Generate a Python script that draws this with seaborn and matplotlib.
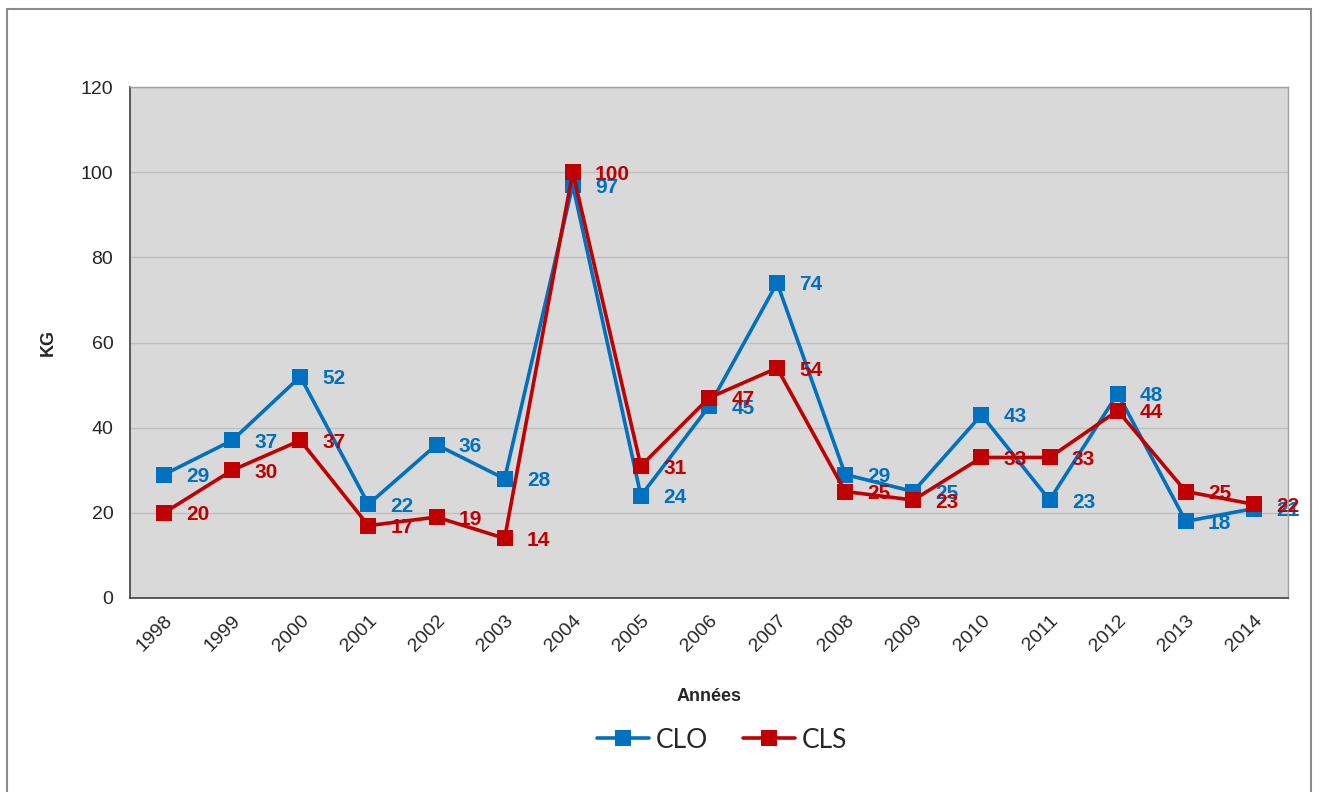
import matplotlib
matplotlib.use('Agg')
import matplotlib.pyplot as plt
from matplotlib import font_manager as fm
from matplotlib.patches import Rectangle
from matplotlib.lines import Line2D
import seaborn as sns
import pandas as pd

# =============================================================================
# Data
# =============================================================================
years = ['1998', '1999', '2000', '2001', '2002', '2003', '2004', '2005', '2006',
         '2007', '2008', '2009', '2010', '2011', '2012', '2013', '2014']
clo = [29, 37, 52, 22, 36, 28, 97, 24, 45, 74, 29, 25, 43, 23, 48, 18, 21]
cls = [20, 30, 37, 17, 19, 14, 100, 31, 47, 54, 25, 23, 33, 33, 44, 25, 22]

colors = {'CLO': '#0070C0', 'CLS': '#C00000'}

df = pd.concat([
    pd.DataFrame({'pos': range(len(years)), 'value': clo, 'serie': 'CLO'}),
    pd.DataFrame({'pos': range(len(years)), 'value': cls, 'serie': 'CLS'}),
])

# =============================================================================
# Plot
# =============================================================================
sns.set_style('white')
# keep the narrow variant out of the font matching
fm.fontManager.ttflist = [f for f in fm.fontManager.ttflist if 'Narrow' not in f.name]
plt.rcParams['font.family'] = ['Liberation Sans', 'DejaVu Sans']

fig = plt.figure(figsize=(13.19, 7.92), dpi=100)
ax = fig.add_axes([130 / 1319, 1 - 598 / 792, (1288 - 130) / 1319, (598 - 87) / 792])
ax.set_facecolor('#D9D9D9')

sns.lineplot(data=df, x='pos', y='value', hue='serie', palette=colors,
             marker='s', markersize=11, markeredgewidth=0, linewidth=2.6,
             ax=ax, legend=False, zorder=3)

# data labels
for serie, vals in [('CLO', clo), ('CLS', cls)]:
    for i, v in enumerate(vals):
        ax.annotate(str(v), (i, v), xytext=(16, -1.5), textcoords='offset points',
                    va='center', ha='left', fontsize=15, fontweight='bold',
                    color=colors[serie], zorder=4)

ax.set_xlim(-0.5, len(years) - 0.5)
ax.set_ylim(0, 120)
ax.set_yticks(range(0, 121, 20))
ax.yaxis.grid(True, color='#BFBFBF', linewidth=1)
ax.set_axisbelow(True)

ax.set_xticks(range(len(years)))
ax.set_xticklabels(years, rotation=45, ha='right', rotation_mode='anchor')
ax.set_xticks([i - 0.5 for i in range(len(years) + 1)], minor=True)
ax.tick_params(axis='x', which='major', length=0, pad=10, labelsize=14)
ax.tick_params(axis='x', which='minor', length=6, color='#606060', direction='out')
ax.tick_params(axis='y', length=6, color='#606060', direction='out', labelsize=14, pad=6)

for side in ['top', 'right']:
    ax.spines[side].set_color('#A0A0A0')
    ax.spines[side].set_linewidth(1)
for side in ['left', 'bottom']:
    ax.spines[side].set_color('#404040')
    ax.spines[side].set_linewidth(1.2)

ax.set_xlabel('Années', fontsize=13, fontweight='bold', labelpad=24)
ax.set_ylabel('KG', fontsize=13, fontweight='bold', labelpad=17)

# legend
handles = [Line2D([], [], color=colors[s], marker='s', markersize=11, linewidth=2.6,
                  markeredgewidth=0) for s in ['CLO', 'CLS']]
fig.legend(handles, ['CLO', 'CLS'], loc='center', bbox_to_anchor=(722 / 1319, 1 - 740 / 792),
           ncol=2, frameon=False, prop={'family': 'Lato', 'size': 19},
           handlelength=2.0, columnspacing=1.3, handletextpad=0.25)

# outer frame
fig.patches.append(Rectangle((7 / 1319, -0.01), (1311 - 7) / 1319, 1 - 9 / 792 + 0.01,
                             transform=fig.transFigure, fill=False,
                             edgecolor='#8C8C8C', linewidth=1.5))

fig.savefig('out.png', dpi=100)
